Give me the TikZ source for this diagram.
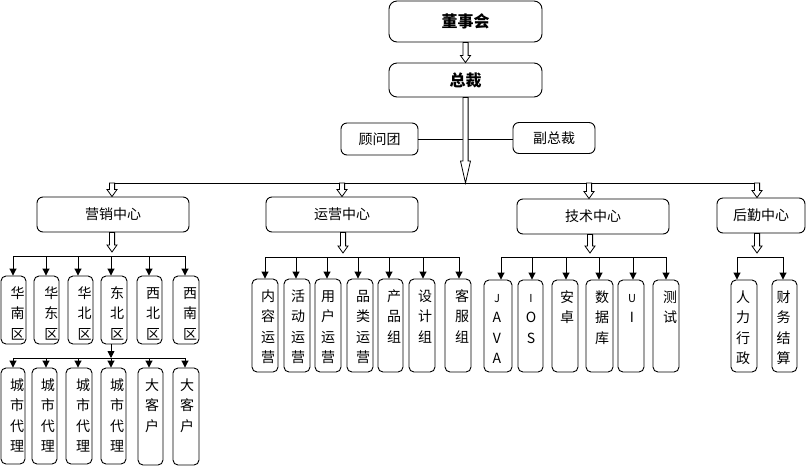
\documentclass[tikz,border=0pt]{standalone}
\usepackage{fontspec}
\setmainfont{Noto Sans CJK SC}
\usetikzlibrary{arrows.meta,calc}
\tikzset{
  topbox/.style={draw, line width=0.9pt, rounded corners=8pt, fill=white, inner sep=0pt,
    font=\bfseries\fontsize{16}{19}\selectfont},
  midbox/.style={draw, line width=0.9pt, rounded corners=6pt, fill=white, inner sep=0pt,
    font=\fontsize{14}{17}\selectfont},
  leafbox/.style={draw, line width=0.9pt, rounded corners=5pt, fill=white, inner sep=0pt},
  leaftext/.style={align=center, inner sep=0pt, font=\fontsize{14}{20.5}\selectfont},
  conn/.style={line width=0.9pt},
  sarr/.style={line width=0.9pt, -{Triangle[width=7pt,length=7pt]}},
  harr/.style={line width=0.8pt, fill=white, line join=miter}
}
% hollow arrow: #1 start, #2 tip, #3 head length, #4 head half width
\newcommand\harrow[4]{%
  \draw[harr] let \p1=(#1), \p2=(#2) in
    (\x1-2.6pt,\y1) -- (\x1-2.6pt,\y2+#3pt) -- (\x1-#4pt,\y2+#3pt) -- (\x1,\y2)
    -- (\x1+#4pt,\y2+#3pt) -- (\x1+2.6pt,\y2+#3pt) -- (\x1+2.6pt,\y1) -- cycle;}
% leaf: #1 name, #2 x1, #3 x2, #4 top, #5 bottom, #6 text dx, #7 arrow x, #8 line y, #9 text
\newcommand\leaf[9]{%
  \node[leafbox, minimum width={#3-#2}, minimum height={#5-#4}] (#1) at ({(#2+#3)/2},{(#4+#5)/2}) {};
  \node[leaftext, anchor=north] (#1-t) at ([xshift=#6pt, yshift=-10pt]#1.north) {\rule{0pt}{12.5pt}#9};
  \coordinate (#1-a) at (#7,#8);
  \draw[sarr] (#1-a) -- (#1-a |- #1.north);}
\begin{document}
\begin{tikzpicture}[x=1pt,y=-1pt]
\useasboundingbox (0,0) rectangle (807,467);
% top
\node[topbox, minimum width=153, minimum height=41] (dsh) at (465.5,21.5) {董事会};
\node[topbox, minimum width=153, minimum height=34] (zc) at (465.5,80) {总裁};
\node[midbox, minimum width=77, minimum height=32] (gwt) at (379.5,139) {顾问团};
\node[midbox, minimum width=82, minimum height=31] (fzc) at (554,138) {副总裁};
\draw[conn] (gwt.east) -- (gwt.east -| fzc.west);
% centers
\node[midbox, minimum width=152, minimum height=35] (yx) at (113,214.5) {营销中心};
\node[midbox, minimum width=152, minimum height=35] (yy) at (342,214.5) {运营中心};
\node[midbox, minimum width=152, minimum height=35] (js) at (593,216.5) {技术中心};
\node[midbox, minimum width=88, minimum height=35] (hq) at (761,215.5) {后勤中心};
% main line
\coordinate (mL) at (112,183);
\coordinate (mR) at (759,183);
\coordinate (mC) at (465.5,183);
\coordinate (m1) at (112,183);
\coordinate (m2) at (342,183);
\coordinate (m3) at (589,183);
\coordinate (m4) at (757,183);
\draw[conn] (mL) -- (mR);
\harrow{dsh.south}{dsh.south |- zc.north}{7}{5}
\harrow{zc.south}{mC}{22}{5}
\harrow{m1}{m1 |- yx.north}{7}{5}
\harrow{m2}{m2 |- yy.north}{7}{5}
\harrow{m3}{m3 |- js.north}{7}{5}
\harrow{m4}{m4 |- hq.north}{7}{5}
% second level branch lines
\coordinate (t1) at (112,252);
\coordinate (t2) at (343,253);
\coordinate (t3) at (590,253);
\coordinate (t4) at (757,253);
\harrow{t1 |- yx.south}{t1}{7}{5}
\harrow{t2 |- yy.south}{t2}{7}{5}
\harrow{t3 |- js.south}{t3}{7}{5}
\harrow{t4 |- hq.south}{t4}{7}{5}
\coordinate (l1a) at (13,256); \coordinate (l1b) at (185,256);
\coordinate (l2a) at (265,257); \coordinate (l2b) at (459,257);
\coordinate (l3a) at (501,257); \coordinate (l3b) at (666,257);
\coordinate (l4a) at (737,257); \coordinate (l4b) at (783,257);
\draw[conn] (l1a) -- (l1b);
\draw[conn] (l2a) -- (l2b);
\draw[conn] (l3a) -- (l3b);
\draw[conn] (l4a) -- (l4b);
% marketing row 1
\leaf{r1a}{1}{26}{276}{344}{4}{13}{256}{华\\南\\区}
\leaf{r1b}{34}{59}{276}{344}{5}{46}{256}{华\\东\\区}
\leaf{r1c}{68}{93}{276}{344}{4}{78}{256}{华\\北\\区}
\leaf{r1d}{101}{127}{276}{344}{3}{111}{256}{东\\北\\区}
\leaf{r1e}{137}{162}{276}{344}{3.5}{149}{256}{西\\北\\区}
\leaf{r1f}{173}{199}{276}{344}{4}{185}{256}{西\\南\\区}
% marketing row 2
\coordinate (c2) at (111,358);
\coordinate (l5a) at (13,358); \coordinate (l5b) at (185,358);
\draw[conn] (l5a) -- (l5b);
\draw[sarr] (c2 |- r1d.south) -- (c2);
\leaf{r2a}{1}{25}{368}{464}{4}{13}{358}{城\\市\\代\\理}
\leaf{r2b}{32}{57}{368}{464}{3.5}{46}{358}{城\\市\\代\\理}
\leaf{r2c}{66}{92}{368}{464}{4}{78}{358}{城\\市\\代\\理}
\leaf{r2d}{101}{126}{368}{464}{3.5}{111}{358}{城\\市\\代\\理}
\leaf{r2e}{138}{163}{368}{465}{1.5}{149}{358}{大\\客\\户}
\leaf{r2f}{173}{199}{368}{465}{1}{185}{358}{大\\客\\户}
% operations
\leaf{y1}{252}{278}{279}{372}{3}{265}{257}{内\\容\\运\\营}
\leaf{y2}{284}{310}{279}{372}{1}{296}{257}{活\\动\\运\\营}
\leaf{y3}{315}{341}{279}{372}{0}{327}{257}{用\\户\\运\\营}
\leaf{y4}{347}{373}{279}{372}{3}{358}{257}{品\\类\\运\\营}
\leaf{y5}{378}{403}{279}{372}{3.5}{389}{257}{产\\品\\组}
\leaf{y6}{409}{435}{279}{372}{3}{423}{257}{设\\计\\组}
\leaf{y7}{445}{471}{279}{372}{4}{459}{257}{客\\服\\组}
% technology
\leaf{j1}{484}{512}{280}{372}{-1}{501}{257}{\fontsize{11}{20.5}\selectfont J\\A\\V\\A}
\leaf{j2}{518}{543}{280}{372}{0.5}{532}{257}{\fontsize{11}{20.5}\selectfont I\\O\\S}
\leaf{j3}{552}{578}{280}{372}{2}{566}{257}{安\\卓}
\leaf{j4}{586}{613}{280}{372}{2.5}{599}{257}{数\\据\\库}
\leaf{j5}{618}{644}{280}{372}{1}{633}{257}{\fontsize{11}{20.5}\selectfont U\\I}
\leaf{j6}{653}{679}{280}{372}{4}{666}{257}{测\\试}
% logistics
\leaf{h1}{731}{757}{280}{372}{-1}{737}{257}{人\\力\\行\\政}
\leaf{h2}{772}{797}{280}{372}{-1}{783}{257}{财\\务\\结\\算}
\end{tikzpicture}
\end{document}
